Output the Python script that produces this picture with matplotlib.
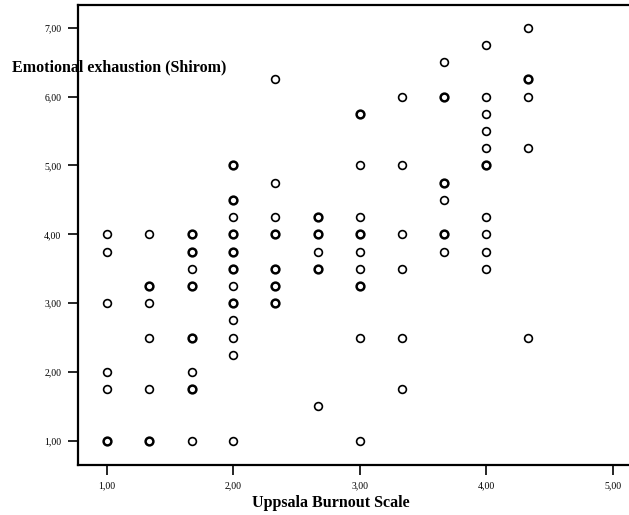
import numpy as np
import matplotlib
matplotlib.use('Agg')
import matplotlib.pyplot as plt
from matplotlib.ticker import FuncFormatter

# Uppsala Burnout Scale score groups (x) and emotional exhaustion values (y)
# a value listed twice was drawn bold in the original (overlapping cases)
x_levels = [1.00, 1.33, 1.67, 2.00, 2.33, 2.67, 3.00, 3.33, 3.67, 4.00, 4.33]
y_by_level = [
    [4.00, 3.75, 3.00, 2.00, 1.75, 1.00, 1.00],
    [4.00, 3.25, 3.25, 3.00, 2.50, 1.75, 1.00, 1.00],
    [4.00, 4.00, 3.75, 3.75, 3.50, 3.25, 3.25, 2.50, 2.50, 2.00, 1.75, 1.75, 1.00],
    [5.00, 5.00, 4.50, 4.50, 4.25, 4.00, 4.00, 3.75, 3.75, 3.50, 3.50, 3.25,
     3.00, 3.00, 2.75, 2.50, 2.25, 1.00],
    [6.25, 4.75, 4.25, 4.00, 4.00, 3.50, 3.50, 3.25, 3.25, 3.00, 3.00],
    [4.25, 4.25, 4.00, 4.00, 3.75, 3.50, 3.50, 1.50],
    [5.75, 5.75, 5.00, 4.25, 4.00, 4.00, 3.75, 3.50, 3.25, 3.25, 2.50, 1.00],
    [6.00, 5.00, 4.00, 3.50, 2.50, 1.75],
    [6.50, 6.00, 6.00, 4.75, 4.75, 4.50, 4.00, 4.00, 3.75],
    [6.75, 6.00, 5.75, 5.50, 5.25, 5.00, 5.00, 4.25, 4.00, 3.75, 3.50],
    [7.00, 6.25, 6.25, 6.00, 5.25, 2.50],
]
x_ticks = [1, 2, 3, 4, 5]
y_ticks = [1, 2, 3, 4, 5, 6, 7]

xs = []
ys = []
for xv, col in zip(x_levels, y_by_level):
    for yv in col:
        xs.append(xv)
        ys.append(yv)
pts, counts = np.unique(np.column_stack([xs, ys]), axis=0, return_counts=True)

plt.rcParams['font.family'] = ['Liberation Serif', 'DejaVu Serif']

fig = plt.figure(figsize=(6.29, 5.15), dpi=100)
ax = fig.add_axes([78/629, 1 - 465/515, 1 - 78/629, 460/515])

for (px, py), c in zip(pts, counts):
    ax.plot(px, py, 'o', ms=5.6, mfc='none', mec='black',
            mew=1.2 if c == 1 else 1.8)

ax.set_xlim(0.77, 5.13)
ax.set_ylim(0.65, 7.33)
ax.set_xticks(x_ticks)
ax.set_yticks(y_ticks)
fmt = FuncFormatter(lambda v, p: '{:.2f}'.format(v).replace('.', ','))
ax.xaxis.set_major_formatter(fmt)
ax.yaxis.set_major_formatter(fmt)
ax.tick_params(labelsize=7, length=7, width=1.2, pad=5, colors='black')

ax.spines['right'].set_visible(False)
for s in ['left', 'bottom', 'top']:
    ax.spines[s].set_linewidth(1.6)

# y label sits horizontally across the left spine, spine drawn on top
ax.text(12/629, 1 - 67/515, 'Emotional exhaustion (Shirom)', fontsize=11.5,
        fontweight='bold', va='center', ha='left', transform=fig.transFigure,
        clip_on=False, zorder=0)
fig.text(331/629, 1 - 503/515, 'Uppsala Burnout Scale', fontsize=11.5,
         fontweight='bold', va='center', ha='center')

fig.savefig('out.png', dpi=100)
